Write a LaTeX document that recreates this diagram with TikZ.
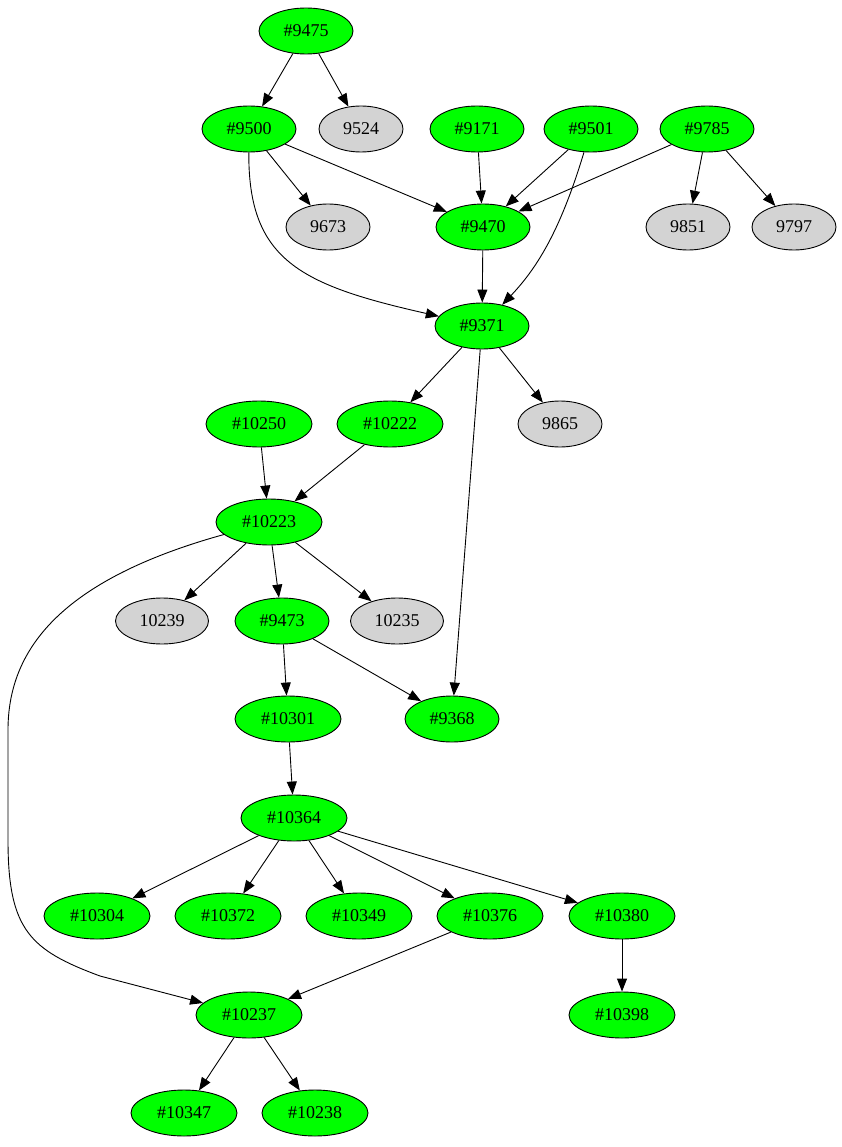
\documentclass[tikz,border=0pt]{standalone}
\usepackage{fontspec}
\setmainfont{Liberation Serif}
\usetikzlibrary{shapes.geometric,arrows.meta}

\definecolor{prgreen}{RGB}{0,255,0}
\definecolor{issgray}{RGB}{211,211,211}

\begin{document}
\begin{tikzpicture}[x=1pt,y=-1pt,
	pr/.style={ellipse, draw, fill=prgreen, inner sep=0pt, minimum height=46pt, minimum width=94pt},
	prw/.style={pr, minimum width=106pt},
	iss/.style={ellipse, draw, fill=issgray, inner sep=0pt, minimum height=46pt, minimum width=84pt},
	issw/.style={iss, minimum width=93pt},
	arr/.style={-{Triangle[length=13pt,width=10pt]}, line width=0.9pt}]
	\tikzstyle{every node}=[font=\fontsize{18}{20}\selectfont, line width=0.9pt]
	\useasboundingbox (0,0) rectangle (842,1147);
	% top rows
	\node[pr] (n9475) at (306, 31) {\#9475};
	\node[pr] (n9500) at (249, 129) {\#9500};
	\node[iss] (n9524) at (361, 129) {9524};
	\node[pr] (n9171) at (477, 129) {\#9171};
	\node[pr] (n9501) at (591, 129) {\#9501};
	\node[pr] (n9785) at (707, 129) {\#9785};
	\node[iss] (n9673) at (328, 227) {9673};
	\node[pr] (n9470) at (483, 227) {\#9470};
	\node[iss] (n9851) at (688, 227) {9851};
	\node[iss] (n9797) at (794, 227) {9797};
	\node[pr] (n9371) at (482, 326) {\#9371};
	% middle
	\node[prw] (n10250) at (259, 424) {\#10250};
	\node[prw] (n10222) at (390, 424) {\#10222};
	\node[iss] (n9865) at (560, 424) {9865};
	\node[prw] (n10223) at (269, 522) {\#10223};
	\node[issw] (n10239) at (162, 621) {10239};
	\node[pr] (n9473) at (282, 621) {\#9473};
	\node[issw] (n10235) at (397, 621) {10235};
	\node[prw] (n10301) at (288, 719) {\#10301};
	\node[pr] (n9368) at (452, 719) {\#9368};
	% bottom
	\node[prw] (n10364) at (294, 818) {\#10364};
	\node[prw] (n10304) at (97, 916) {\#10304};
	\node[prw] (n10372) at (228, 916) {\#10372};
	\node[prw] (n10349) at (359, 916) {\#10349};
	\node[prw] (n10376) at (490, 916) {\#10376};
	\node[prw] (n10380) at (622, 916) {\#10380};
	\node[prw] (n10237) at (249, 1015) {\#10237};
	\node[prw] (n10398) at (622, 1015) {\#10398};
	\node[prw] (n10347) at (184, 1113) {\#10347};
	\node[prw] (n10238) at (315, 1113) {\#10238};
	% edges
	\draw[arr] (n9475) -- (n9500);
	\draw[arr] (n9475) -- (n9524);
	\draw[arr] (n9500) -- (n9673);
	\draw[arr] (n9500) -- (n9470);
	\draw[arr] (n9500) .. controls (248,260) and (300,285) .. (n9371);
	\draw[arr] (n9171) -- (n9470);
	\draw[arr] (n9501) -- (n9470);
	\draw[arr] (n9501) .. controls (562,225) and (540,265) .. (n9371);
	\draw[arr] (n9785) -- (n9470);
	\draw[arr] (n9785) -- (n9851);
	\draw[arr] (n9785) -- (n9797);
	\draw[arr] (n9470) -- (n9371);
	\draw[arr] (n9371) -- (n10222);
	\draw[arr] (n9371) -- (n9865);
	\draw[arr] (n9371) -- (n9368);
	\draw[arr] (n10250) -- (n10223);
	\draw[arr] (n10222) -- (n10223);
	\draw[arr] (n10223) -- (n10239);
	\draw[arr] (n10223) -- (n9473);
	\draw[arr] (n10223) -- (n10235);
	\draw[arr] (n10223) .. controls (60,580) and (8,650) .. (8,730) -- (8,840)
		.. controls (8,930) and (30,950) .. (100,976) -- (n10237);
	\draw[arr] (n9473) -- (n10301);
	\draw[arr] (n9473) -- (n9368);
	\draw[arr] (n10301) -- (n10364);
	\draw[arr] (n10364) -- (n10304);
	\draw[arr] (n10364) -- (n10372);
	\draw[arr] (n10364) -- (n10349);
	\draw[arr] (n10364) -- (n10376);
	\draw[arr] (n10364) -- (n10380);
	\draw[arr] (n10376) -- (n10237);
	\draw[arr] (n10380) -- (n10398);
	\draw[arr] (n10237) -- (n10347);
	\draw[arr] (n10237) -- (n10238);
\end{tikzpicture}
\end{document}
